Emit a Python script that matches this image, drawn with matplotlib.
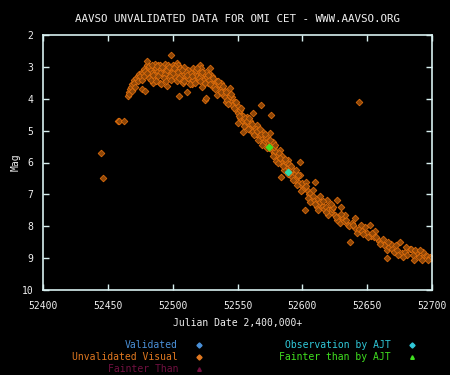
import matplotlib
matplotlib.use("Agg")
import matplotlib.pyplot as plt

# Unvalidated visual estimates (JD - 2400000, mag)
jd_vis = [52445, 52446, 52457.5, 52458.5, 52462.5,
          52465.5, 52466, 52466.5, 52467, 52468, 52468.5, 52469, 52470, 52470.5, 52471,
          52472, 52473, 52473.5, 52474, 52475, 52476, 52476.5, 52477, 52478, 52478.5,
          52479, 52480, 52480.5, 52481, 52481.5, 52482, 52483, 52484, 52485, 52485.5,
          52486, 52487, 52488, 52489, 52490, 52490.5, 52491, 52492, 52493, 52494,
          52495, 52496, 52496.5, 52497, 52498, 52499, 52499.5, 52500, 52501, 52502,
          52503, 52504, 52505, 52505.5, 52506, 52507, 52508, 52509, 52510, 52511,
          52512, 52513, 52514, 52515, 52516, 52517, 52518, 52519, 52520, 52521,
          52522, 52523, 52524, 52525, 52525.5, 52526, 52526.5, 52527, 52528, 52529,
          52530, 52531, 52532, 52533, 52534, 52535, 52536, 52537, 52538, 52539,
          52540, 52541, 52542, 52543, 52544, 52545, 52546, 52547, 52548, 52549,
          52550, 52550.5, 52551, 52552, 52553, 52554, 52554.5, 52555, 52556, 52557,
          52558, 52559, 52560, 52561, 52562, 52563, 52564, 52565, 52566, 52567,
          52568.5, 52569, 52570, 52571, 52572, 52573, 52574, 52575, 52576, 52576.5,
          52577.5, 52578, 52579, 52580, 52581, 52582, 52583, 52583.5, 52584, 52585,
          52586, 52587, 52588, 52589, 52590, 52591, 52592, 52593, 52594, 52595,
          52596, 52597, 52598, 52598.5, 52599, 52600, 52601, 52602, 52603, 52604,
          52605, 52606, 52607, 52608, 52609, 52610, 52611, 52612, 52613, 52614,
          52615, 52616, 52617, 52618, 52619, 52619.5, 52620, 52622, 52623, 52625,
          52626.5, 52628, 52629, 52630, 52631, 52632, 52634, 52635, 52637, 52638,
          52640.6, 52641, 52642, 52643.7, 52644, 52646, 52648, 52650, 52652, 52653,
          52655, 52657, 52659, 52661, 52663, 52665, 52665.5, 52667, 52669, 52671,
          52673, 52675, 52677, 52679, 52681, 52683, 52684, 52686, 52688, 52690,
          52692, 52694, 52696, 52698.5, 52699,
          52476, 52478, 52480, 52482, 52484, 52486, 52488, 52490, 52492, 52494,
          52496, 52498, 52500, 52502, 52504, 52506, 52508, 52510, 52512, 52514,
          52516, 52518, 52520, 52522, 52524, 52526, 52528, 52530, 52532, 52534,
          52536, 52538, 52540, 52542, 52544, 52546, 52548, 52550, 52552, 52554,
          52556, 52558, 52560, 52562, 52564, 52566, 52568, 52570, 52572, 52574,
          52576, 52578, 52580, 52582, 52584, 52586, 52588, 52590, 52592, 52594,
          52596, 52600, 52604, 52608, 52612, 52616, 52620, 52624, 52627, 52633,
          52636, 52645, 52651, 52656, 52662, 52668, 52674, 52680, 52687, 52693,
          52697,
          52483, 52485, 52487, 52489, 52491, 52493, 52495, 52497, 52499, 52501,
          52503, 52505, 52507, 52509, 52511, 52513, 52515, 52517, 52519, 52521,
          52523, 52525, 52527, 52529, 52531, 52533, 52535, 52537, 52539, 52541,
          52543, 52545, 52547, 52549, 52551, 52553, 52555, 52557, 52559, 52561,
          52563, 52565, 52567, 52569, 52571, 52573, 52575, 52577, 52579, 52581,
          52583, 52585, 52587, 52589, 52591, 52593, 52595, 52597, 52599, 52603,
          52606, 52610, 52614, 52618, 52622, 52626, 52630, 52639, 52647, 52654,
          52660, 52666, 52672, 52678, 52685, 52691]
mag_vis = [5.71, 6.50, 4.71, 4.70, 4.71,
           3.92, 3.80, 3.86, 3.70, 3.62, 3.55, 3.75, 3.42, 3.50, 3.62,
           3.35, 3.30, 3.45, 3.22, 3.28, 3.70, 3.15, 3.20, 3.08, 3.75,
           3.12, 2.95, 2.82, 3.30, 3.05, 2.98, 3.10, 3.18, 3.52, 3.00,
           2.90, 3.05, 3.15, 2.95, 3.52, 2.94, 3.08, 3.20, 3.00, 2.90,
           3.12, 3.60, 2.94, 3.25, 3.05, 2.63, 3.15, 2.95, 3.30, 3.10,
           2.88, 2.94, 3.91, 3.20, 3.05, 3.40, 3.20, 3.00, 3.35, 3.79,
           3.10, 3.25, 3.45, 3.55, 3.05, 3.20, 3.41, 3.30, 3.12, 2.94,
           3.25, 3.62, 3.40, 4.04, 3.30, 3.99, 3.31, 3.50, 3.20, 3.02,
           3.45, 3.62, 3.40, 3.55, 3.88, 3.60, 3.70, 3.50, 3.65, 3.80,
           3.75, 4.09, 3.85, 3.95, 3.67, 4.05, 3.93, 4.15, 4.25, 4.35,
           4.24, 4.77, 4.40, 4.61, 4.50, 4.70, 5.03, 4.65, 4.80, 4.56,
           4.85, 4.75, 4.95, 5.05, 4.46, 4.90, 5.10, 4.82, 5.15, 5.20,
           4.20, 5.25, 5.03, 5.30, 5.40, 5.35, 5.55, 5.08, 4.50, 5.60,
           5.35, 5.70, 5.65, 5.82, 5.75, 5.90, 5.60, 6.44, 6.00, 5.85,
           6.05, 6.15, 6.10, 5.92, 6.25, 6.30, 6.20, 6.40, 6.35, 6.50,
           6.45, 6.60, 5.97, 6.39, 6.70, 6.65, 6.80, 7.49, 6.60, 6.90,
           7.00, 6.97, 7.10, 7.05, 7.20, 6.60, 7.39, 7.15, 7.30, 7.25,
           7.40, 7.35, 7.45, 7.39, 7.18, 7.59, 7.50, 7.55, 7.45, 7.65,
           7.18, 7.70, 7.90, 7.39, 7.75, 7.85, 7.80, 7.95, 8.48, 7.90,
           7.75, 8.05, 8.22, 4.10, 8.10, 8.15, 8.01, 8.20, 7.96, 8.30,
           8.35, 8.33, 8.45, 8.50, 8.60, 8.75, 9.00, 8.65, 8.70, 8.80,
           8.75, 8.48, 8.85, 8.80, 8.90, 8.70, 8.72, 9.06, 8.85, 8.95,
           9.06, 8.90, 8.93, 8.96, 9.00,
           3.40, 3.30, 3.20, 3.35, 2.95, 3.25, 2.98, 3.18, 3.00, 3.22,
           3.10, 3.30, 3.20, 2.98, 3.15, 3.30, 3.50, 3.15, 3.35, 3.20,
           3.40, 3.10, 3.35, 3.05, 3.20, 3.15, 3.40, 3.30, 3.60, 3.45,
           3.55, 3.85, 3.95, 4.05, 3.90, 4.20, 4.10, 4.45, 4.35, 4.55,
           4.60, 4.95, 4.70, 5.00, 4.95, 5.30, 5.10, 5.40, 5.20, 5.30,
           5.50, 5.50, 5.95, 5.70, 5.80, 6.25, 6.00, 6.05, 6.45, 6.55,
           6.70, 6.85, 7.10, 6.85, 7.50, 7.20, 7.65, 7.40, 7.80, 7.65,
           8.00, 7.95, 8.35, 8.15, 8.40, 8.55, 8.90, 8.65, 8.75, 8.80,
           9.05,
           3.40, 3.25, 3.45, 3.30, 3.55, 3.35, 3.45, 3.00, 3.40, 3.05,
           3.45, 3.35, 3.10, 3.45, 3.25, 3.55, 3.30, 3.50, 3.05, 3.45,
           3.15, 3.50, 3.25, 3.55, 3.35, 3.70, 3.45, 3.80, 3.60, 3.80,
           4.15, 3.85, 4.30, 4.10, 4.55, 4.30, 4.85, 4.70, 4.60, 4.80,
           5.15, 5.00, 4.95, 5.45, 5.10, 5.55, 5.30, 5.80, 5.45, 6.00,
           5.85, 6.10, 5.90, 6.35, 6.10, 6.55, 6.25, 6.40, 6.90, 6.75,
           7.25, 7.30, 7.05, 7.55, 7.30, 7.70, 7.60, 7.95, 8.25, 8.20,
           8.55, 8.50, 8.60, 8.95, 8.90, 8.75]

# observations by AJT
jd_ajt = [52574.5, 52588.7]
mag_ajt = [5.50, 6.31]
ajt_colors = ["#40e020", "#30d8a8"]

fg = "#d8f0f0"
txt = "#f0f0f0"
orange = "#dc6c0c"
mono = "DejaVu Sans Mono"

fig = plt.figure(figsize=(4.5, 3.75), dpi=100, facecolor="black")
ax = fig.add_axes([43 / 450, 85 / 375, 389 / 450, 255 / 375], facecolor="black")

ax.plot(jd_vis, mag_vis, linestyle="none", marker="D", ms=3.4,
        mfc="#8c4608", mec=orange, mew=0.6)
for x, y, c in zip(jd_ajt, mag_ajt, ajt_colors):
    ax.plot(x, y, linestyle="none", marker="D", ms=3.2, mfc=c, mec=c)

ax.set_xlim(52400, 52700)
ax.set_ylim(10, 2)
ax.set_xticks(range(52400, 52701, 50))
ax.set_yticks(range(2, 11))
for s in ax.spines.values():
    s.set_color(fg)
    s.set_linewidth(1.2)
ax.tick_params(direction="in", length=4, width=1, colors=fg, top=True, right=True,
               labelcolor=txt, labelsize=7)
ax.tick_params(axis="x", pad=8)
ax.tick_params(axis="y", pad=7)
for lab in ax.get_xticklabels() + ax.get_yticklabels():
    lab.set_family(mono)

ax.set_title("AAVSO UNVALIDATED DATA FOR OMI CET - WWW.AAVSO.ORG",
             color=txt, fontsize=7.8, family=mono, pad=9)
ax.set_xlabel("Julian Date 2,400,000+", color=txt, fontsize=7, family=mono, labelpad=5)
ax.set_ylabel("Mag", color=txt, fontsize=7, family=mono, labelpad=1)

# legend rows drawn as text in figure pixels
left_items = [("Validated", "#4a90d8", "D"),
              ("Unvalidated Visual", "#e07820", "D"),
              ("Fainter Than", "#701040", "^")]
right_items = [("Observation by AJT", "#30c8d8", "D"),
               ("Fainter than by AJT", "#40e020", "^")]
rows_y = [345, 357, 369]
for (label, col, mk), y in zip(left_items, rows_y):
    fig.text(178 / 450, 1 - y / 375, label, color=col, fontsize=7, family=mono,
             ha="right", va="center")
    fig.lines.append(plt.Line2D([199 / 450], [1 - y / 375], transform=fig.transFigure,
                                marker=mk, ms=2.6, mfc=col, mec=col, linestyle="none"))
for (label, col, mk), y in zip(right_items, rows_y):
    fig.text(391 / 450, 1 - y / 375, label, color=col, fontsize=7, family=mono,
             ha="right", va="center")
    fig.lines.append(plt.Line2D([412 / 450], [1 - y / 375], transform=fig.transFigure,
                                marker=mk, ms=2.6, mfc=col, mec=col, linestyle="none"))

fig.savefig("out.png", dpi=100, facecolor="black")
